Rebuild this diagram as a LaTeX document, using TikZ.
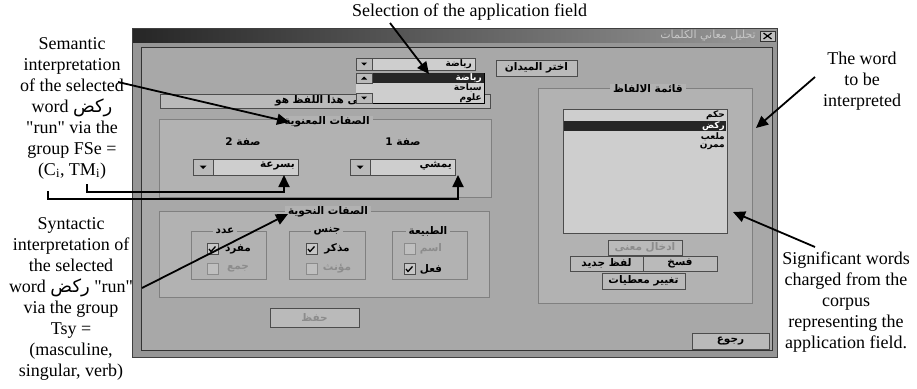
\documentclass[tikz,border=0pt]{standalone}
\usepackage{fontspec}
\setmainfont{Liberation Serif}
\newfontfamily\arabicfont[Script=Arabic]{DejaVu Sans}
\TeXXeTstate=1
\usetikzlibrary{calc}
\usetikzlibrary{arrows.meta}

\definecolor{winbg}{RGB}{168,168,168}
\definecolor{framebg}{RGB}{150,150,150}
\definecolor{grpbg}{RGB}{178,178,178}
\definecolor{fieldbg}{RGB}{206,206,206}
\definecolor{btnbg}{RGB}{186,186,186}
\definecolor{selbg}{RGB}{38,38,38}

\newcommand{\arb}[1]{{\arabicfont\beginR #1\endR}}
\newcommand{\uifont}{\fontsize{10.5}{12}\selectfont\bfseries}
\newcommand{\listfont}{\fontsize{9}{10}\selectfont\bfseries}
\newcommand{\qt}{\textquotedbl}

\tikzset{
  note/.style={font=\fontsize{18}{21}\selectfont, align=center, inner sep=0pt},
  pointer/.style={-{Triangle[length=12pt,width=11pt]}, line width=1.8pt},
  winbtn/.style={draw=black!70, fill=btnbg, inner sep=0pt, font=\uifont,
    path picture={\draw[white!80!black,line width=1.2pt] (path picture bounding box.south west) |- (path picture bounding box.north east);}},
  field/.style={draw=black!70, fill=fieldbg, inner sep=0pt,
    path picture={\draw[black!55,line width=1.2pt] (path picture bounding box.south west) |- (path picture bounding box.north east);}},
  grpbox/.style={draw=black!50, fill=grpbg, inner sep=0pt},
  grptitle/.style={fill=grpbg, inner xsep=3pt, inner ysep=1pt, font=\uifont},
  chkbox/.style={draw=black!70, fill=black!22, minimum size=11pt, inner sep=0pt},
  offbox/.style={draw=black!45, fill=black!25, minimum size=11pt, inner sep=0pt},
  uitext/.style={inner sep=0pt, font=\uifont},
  listtext/.style={inner sep=0pt, font=\listfont, anchor=east},
  offtext/.style={inner sep=0pt, font=\uifont, text=black!45},
}

\begin{document}
\begin{tikzpicture}[x=1pt,y=-1pt]

\useasboundingbox (0,0) rectangle (917,388);

\draw[black!75,fill=framebg] (132,28) rectangle (777,357);
\shade[left color=black!85,right color=black!40] (133,29) rectangle (776,42);
\draw[black!80,fill=winbg] (141,47) rectangle (772,350);

\node[uitext,anchor=east,text=black!22,font=\fontsize{11}{12}\selectfont] (wintitle) at (756,36) {\arb{تحليل معاني الكلمات}};
\node[draw=black!80,fill=black!25,minimum width=15pt,minimum height=10pt,inner sep=0pt] (closebox) at (767.5,36) {};
\draw[line width=1.2pt] ($(closebox)+(-4,-3)$) -- ++(8,6) ($(closebox)+(-4,3)$) -- ++(8,-6);

\node[winbtn,minimum width=81pt,minimum height=16pt] (fieldlbl) at (536.5,68) {\arb{اختر الميدان}};

\node[winbtn,minimum width=330pt,minimum height=14pt] (meanbox) at (325,101) {};
\node[uitext,anchor=west] (meantxt) at (275,101) {\arb{معنى هذا اللفظ هو}};

\node[field,minimum width=119pt,minimum height=12pt] (fieldcombo) at (415.5,64) {};
\node[listtext] (fieldval) at (472,64) {\arb{رياضة}};
\node[winbtn,minimum width=16pt,minimum height=12pt] (fieldbtn) at (364,64) {};
\fill ($(fieldbtn)+(-3,-1.5)$) -- ++(6,0) -- ++(-3,3) -- cycle;

\node[draw=black,fill=fieldbg,minimum width=128pt,minimum height=30pt,inner sep=0pt] (droplist) at (420,88) {};
\fill[selbg] (372,73) rectangle (484,83);
\node[listtext,text=white] (item1) at (482,78) {\arb{رياضة}};
\node[listtext] (item2) at (482,88) {\arb{سباحة}};
\node[listtext] (item3) at (482,98) {\arb{علوم}};
\fill[black!18] (356,83) rectangle (372,93);
\node[winbtn,minimum width=16pt,minimum height=10pt] (scrollup) at (364,78) {};
\node[winbtn,minimum width=16pt,minimum height=10pt] (scrolldown) at (364,98) {};
\fill ($(scrollup)+(-3,1.5)$) -- ++(6,0) -- ++(-3,-3) -- cycle;
\fill ($(scrolldown)+(-3,-1.5)$) -- ++(6,0) -- ++(-3,3) -- cycle;

\node[grpbox,minimum width=332pt,minimum height=78pt] (semgrp) at (325,158) {};
\node[grptitle] (semtitle) at (327,122) {\arb{الصفات المعنوية}};
\node[uitext] (attr2) at (243,142) {\arb{صفة 2}};
\node[uitext] (attr1) at (403,142) {\arb{صفة 1}};
\node[field,minimum width=105pt,minimum height=16pt] (combo2) at (245.5,167) {};
\node[uitext,anchor=east] (combo2val) at (295,166) {\arb{بسرعة}};
\node[winbtn,minimum width=20pt,minimum height=16pt] (combo2btn) at (203,167) {};
\fill ($(combo2btn)+(-3.5,-1.5)$) -- ++(7,0) -- ++(-3.5,3.5) -- cycle;
\node[field,minimum width=105pt,minimum height=16pt] (combo1) at (402.5,167) {};
\node[uitext,anchor=east] (combo1val) at (452,166) {\arb{يمشي}};
\node[winbtn,minimum width=20pt,minimum height=16pt] (combo1btn) at (360,167) {};
\fill ($(combo1btn)+(-3.5,-1.5)$) -- ++(7,0) -- ++(-3.5,3.5) -- cycle;

\node[grpbox,minimum width=330pt,minimum height=86pt] (syngrp) at (324,254) {};
\node[grptitle] (syntitle) at (328,212) {\arb{الصفات النحوية}};
\node[grpbox,minimum width=75pt,minimum height=48pt] (numbox) at (228.5,255) {};
\node[grpbox,minimum width=76pt,minimum height=48pt] (genbox) at (327,255) {};
\node[grpbox,minimum width=75pt,minimum height=48pt] (natbox) at (429.5,255) {};
\node[grptitle] (numtitle) at (225,231) {\arb{عدد}};
\node[grptitle] (gentitle) at (327,231) {\arb{جنس}};
\node[grptitle] (nattitle) at (428,231) {\arb{الطبيعة}};

\node[chkbox] (chksing) at (212.5,249) {};
\node[offbox] (chkplur) at (212.5,269) {};
\node[chkbox] (chkmasc) at (311.5,249) {};
\node[offbox] (chkfem) at (311.5,269) {};
\node[offbox] (chknoun) at (409.5,249) {};
\node[chkbox] (chkverb) at (409.5,269) {};
\draw[line width=1.3pt] ($(chksing)+(-3.5,0)$) -- ++(2,2.5) -- ++(4.5,-5);
\draw[line width=1.3pt] ($(chkmasc)+(-3.5,0)$) -- ++(2,2.5) -- ++(4.5,-5);
\draw[line width=1.3pt] ($(chkverb)+(-3.5,0)$) -- ++(2,2.5) -- ++(4.5,-5);
\node[uitext] (lblsing) at (238,249) {\arb{مفرد}};
\node[offtext] (lblplur) at (238,269) {\arb{جمع}};
\node[uitext] (lblmasc) at (337,249) {\arb{مذكر}};
\node[offtext] (lblfem) at (337,269) {\arb{مؤنث}};
\node[offtext] (lblnoun) at (431,249) {\arb{اسم}};
\node[uitext] (lblverb) at (431,269) {\arb{فعل}};

\node[winbtn,minimum width=89pt,minimum height=19pt,text=black!45] (savebtn) at (314.5,317.5) {\arb{حفظ}};

\node[grpbox,minimum width=214pt,minimum height=215pt] (wordgrp) at (645,195.5) {};
\node[grptitle] (wordtitle) at (648,89) {\arb{قائمة الالفاظ}};
\node[field,minimum width=164pt,minimum height=124pt] (wordlist) at (645,171) {};
\fill[selbg] (564,121) rectangle (726,131);
\node[listtext] (word1) at (725,115.5) {\arb{حكم}};
\node[listtext,text=white] (word2) at (725,126) {\arb{ركض}};
\node[listtext] (word3) at (725,136.5) {\arb{ملعب}};
\node[listtext] (word4) at (725,147) {\arb{ممرن}};

\node[winbtn,minimum width=74pt,minimum height=15pt,text=black!45] (addbtn) at (645,247.5) {\arb{ادخال معنى}};
\node[winbtn,minimum width=73pt,minimum height=15pt] (newbtn) at (606.5,263.5) {\arb{لفظ جديد}};
\node[winbtn,minimum width=74pt,minimum height=15pt] (delbtn) at (680,263.5) {\arb{فسخ}};
\node[winbtn,minimum width=83pt,minimum height=16pt] (chgbtn) at (643.5,281) {\arb{تغيير معطيات}};
\node[winbtn,minimum width=77pt,minimum height=16pt] (backbtn) at (730.5,341) {\arb{رجوع}};

\node[note] (selnote) at (469.5,12) {Selection of the application field};
\node[note] (semnote) at (72,108) {Semantic\\interpretation\\of the selected\\word \arb{ركض}\\\qt run\qt{} via the\\group FSe =\\(C\textsubscript{i}, TM\textsubscript{i})};
\node[note] (synnote) at (71,299) {Syntactic\\interpretation of\\the selected\\word \arb{ركض} \qt run\qt\\via the group\\Tsy =\\(masculine,\\singular, verb)};
\node[note] (wordnote) at (862,81) {The word\\to be\\interpreted};
\node[note] (signote) at (846,302) {Significant words\\charged from the\\corpus\\representing the\\application field.};

\coordinate (selfrom) at (390,23);
\coordinate (selto) at (429,74);
\coordinate (semfrom) at (118,82);
\coordinate (semto) at (289,122);
\coordinate (tmifrom) at (87,184);
\coordinate (tmibend) at (284,192);
\coordinate (tmito) at (284,175);
\coordinate (cifrom) at (48,191);
\coordinate (cibend) at (458,199);
\coordinate (cito) at (458,175);
\coordinate (synfrom) at (142,288);
\coordinate (synto) at (288,214);
\coordinate (wordfrom) at (815,77);
\coordinate (wordto) at (756,128);
\coordinate (sigfrom) at (815,247);
\coordinate (sigto) at (733,212);

\draw[pointer] (selfrom) -- (selto);
\draw[pointer] (semfrom) -- (semto);
\draw[pointer] (tmifrom) |- (tmibend) -- (tmito);
\draw[pointer] (cifrom) |- (cibend) -- (cito);
\draw[pointer] (synfrom) -- (synto);
\draw[pointer] (wordfrom) -- (wordto);
\draw[pointer] (sigfrom) -- (sigto);

\end{tikzpicture}
\end{document}
